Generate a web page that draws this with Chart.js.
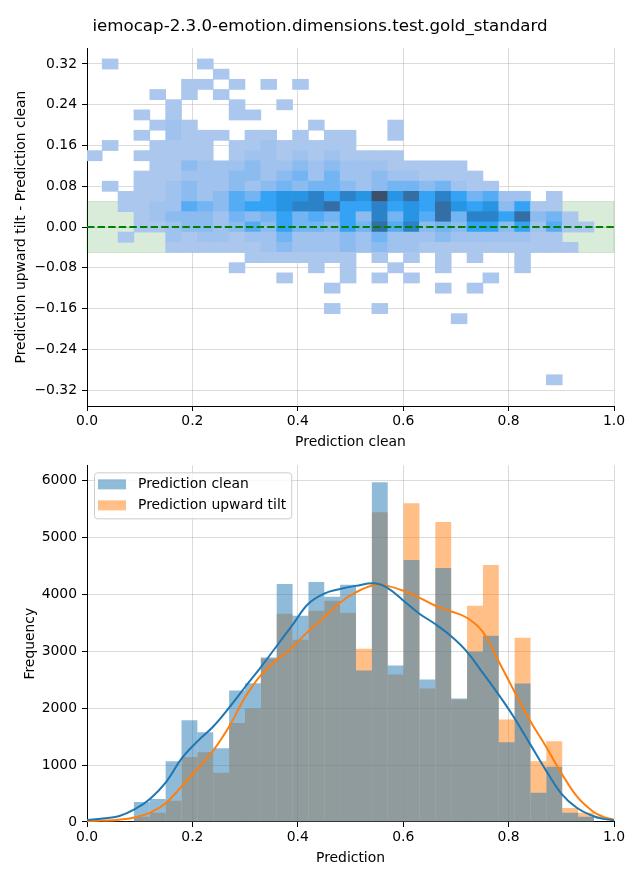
<!DOCTYPE html>
<html><head><meta charset="utf-8">
<script src="https://cdn.jsdelivr.net/npm/chart.js@4.4.1/dist/chart.umd.min.js"></script>
<style>
html,body{margin:0;padding:0;background:#fff;}
#wrap{position:relative;width:640px;height:880px;overflow:hidden;}
.box{position:absolute;left:0;width:640px;}
</style></head><body>
<div id="wrap">
<div class="box" style="top:0;height:452px"><canvas id="c1" width="640" height="452"></canvas></div>
<div class="box" style="top:452px;height:428px"><canvas id="c2" width="640" height="428"></canvas></div>
</div>
<script>
// ---------------- DATA ----------------
const chartTitle = 'iemocap-2.3.0-emotion.dimensions.test.gold_standard';
// histogram bins (centres of the 32 bins on "Prediction clean" / "Prediction")
const binCenters = [0.0138,0.0439,0.0740,0.1041,0.1342,0.1643,0.1944,0.2245,0.2546,0.2847,0.3148,0.3449,0.3750,0.4051,0.4352,0.4653,0.4954,0.5255,0.5556,0.5857,0.6158,0.6459,0.6760,0.7061,0.7362,0.7663,0.7964,0.8265,0.8566,0.8867,0.9168,0.9469];
// top panel: 2D histogram rows (difference upward tilt - clean)
const heatRowCenters = [0.32,0.30,0.28,0.26,0.24,0.22,0.20,0.18,0.16,0.14,0.12,0.10,0.08,0.06,0.04,0.02,0.00,-0.02,-0.04,-0.06,-0.08,-0.10,-0.12,-0.14,-0.16,-0.18,-0.20,-0.22,-0.24,-0.26,-0.28,-0.30];
const heatCounts = [
 [0,1,0,0,0,0,0,1,0,0,0,0,0,0,0,0,0,0,0,0,0,0,0,0,0,0,0,0,0,0,0,0],
 [0,0,0,0,0,0,0,0,1,0,0,0,0,0,0,0,0,0,0,0,0,0,0,0,0,0,0,0,0,0,0,0],
 [0,0,0,0,0,0,1,1,0,1,0,1,0,1,0,0,0,0,0,0,0,0,0,0,0,0,0,0,0,0,0,0],
 [0,0,0,0,1,0,1,0,1,0,0,0,0,0,0,0,0,0,0,0,0,0,0,0,0,0,0,0,0,0,0,0],
 [0,0,0,0,0,1,0,0,0,1,0,0,1,0,0,0,0,0,0,0,0,0,0,0,0,0,0,0,0,0,0,0],
 [0,0,0,1,0,1,0,0,0,1,1,0,0,0,0,0,0,0,0,0,0,0,0,0,0,0,0,0,0,0,0,0],
 [0,0,0,0,1,2,1,0,0,0,0,0,0,0,1,0,0,0,0,1,0,0,0,0,0,0,0,0,0,0,0,0],
 [0,0,0,1,0,2,1,1,1,0,1,1,0,1,0,1,1,0,0,1,0,0,0,0,0,0,0,0,0,0,0,0],
 [0,1,0,0,1,1,1,1,0,1,1,2,1,1,1,1,1,0,0,0,0,0,0,0,0,0,0,0,0,0,0,0],
 [1,0,0,1,1,1,1,1,0,1,2,2,1,2,1,2,1,1,1,1,0,0,0,0,0,0,0,0,0,0,0,0],
 [0,0,0,0,1,1,3,2,2,2,3,2,2,3,2,3,2,2,2,1,1,1,1,1,0,0,0,0,0,0,0,0],
 [0,0,0,1,1,1,2,2,2,3,3,2,3,4,2,4,2,2,3,2,2,1,1,1,1,0,0,0,0,0,0,0],
 [0,1,0,1,1,2,3,2,2,3,2,3,4,3,4,4,3,2,3,4,4,3,4,2,1,1,0,0,0,0,0,0],
 [0,0,1,1,1,2,3,2,3,5,4,6,7,7,8,6,8,7,10,7,9,6,8,6,4,5,2,2,0,1,0,0],
 [0,0,1,1,2,2,5,4,3,5,6,6,7,8,8,9,6,6,8,6,7,6,9,7,6,7,3,6,1,1,0,0],
 [0,0,0,1,2,3,3,3,2,4,3,4,6,4,5,4,6,3,8,4,7,5,9,4,8,8,6,9,3,4,1,0],
 [0,0,0,1,1,2,3,3,2,3,5,3,6,4,4,3,6,4,9,5,8,3,4,3,6,6,3,6,2,5,1,1],
 [0,0,1,0,0,2,1,2,2,1,2,2,4,2,2,2,3,2,4,2,2,2,3,2,2,2,2,2,1,1,0,0],
 [0,0,0,0,0,1,1,1,1,1,1,2,3,2,2,2,3,2,3,2,2,1,1,1,1,1,1,1,1,1,1,0],
 [0,0,0,0,0,0,0,0,0,0,1,1,1,1,1,1,1,0,1,0,1,0,1,0,1,0,0,1,0,0,0,0],
 [0,0,0,0,0,0,0,0,0,1,0,0,0,0,1,0,1,0,0,1,0,0,1,0,0,0,0,1,0,0,0,0],
 [0,0,0,0,0,0,0,0,0,0,0,0,1,0,0,0,1,0,1,0,1,0,0,0,0,1,0,0,0,0,0,0],
 [0,0,0,0,0,0,0,0,0,0,0,0,0,0,0,1,0,0,0,0,0,0,1,0,1,0,0,0,0,0,0,0],
 [0,0,0,0,0,0,0,0,0,0,0,0,0,0,0,0,0,0,0,0,0,0,0,0,0,0,0,0,0,0,0,0],
 [0,0,0,0,0,0,0,0,0,0,0,0,0,0,0,1,0,0,1,0,0,0,0,0,0,0,0,0,0,0,0,0],
 [0,0,0,0,0,0,0,0,0,0,0,0,0,0,0,0,0,0,0,0,0,0,0,1,0,0,0,0,0,0,0,0],
 [0,0,0,0,0,0,0,0,0,0,0,0,0,0,0,0,0,0,0,0,0,0,0,0,0,0,0,0,0,0,0,0],
 [0,0,0,0,0,0,0,0,0,0,0,0,0,0,0,0,0,0,0,0,0,0,0,0,0,0,0,0,0,0,0,0],
 [0,0,0,0,0,0,0,0,0,0,0,0,0,0,0,0,0,0,0,0,0,0,0,0,0,0,0,0,0,0,0,0],
 [0,0,0,0,0,0,0,0,0,0,0,0,0,0,0,0,0,0,0,0,0,0,0,0,0,0,0,0,0,0,0,0],
 [0,0,0,0,0,0,0,0,0,0,0,0,0,0,0,0,0,0,0,0,0,0,0,0,0,0,0,0,0,0,0,0],
 [0,0,0,0,0,0,0,0,0,0,0,0,0,0,0,0,0,0,0,0,0,0,0,0,0,0,0,0,0,1,0,0]
];
const toleranceBand = [-0.05, 0.05];
const referenceLine = 0;
// bottom panel: histogram counts per bin
const seriesNames = ['Prediction clean', 'Prediction upward tilt'];
const countsClean = [0,4,9,350,402,1067,1784,1574,1294,2309,2437,2886,4180,3620,4215,3953,4163,2659,5964,2746,4600,2501,4460,2169,2991,3271,1399,2431,513,968,163,93];
const countsTilt  = [0,1,3,93,163,372,1143,1224,863,1737,1994,2870,3655,3200,3708,3883,3673,3043,5439,2589,5597,2344,5265,2150,3795,4512,1801,3236,1067,1417,245,163];
// KDE curves (scaled to counts)
const kdeX     = [0,0.03,0.06,0.09,0.12,0.15,0.18,0.21,0.24,0.27,0.30,0.33,0.36,0.39,0.42,0.45,0.48,0.51,0.545,0.57,0.60,0.63,0.66,0.69,0.72,0.75,0.78,0.81,0.84,0.87,0.90,0.93,0.96,0.98,1.0];
const kdeClean = [35,60,100,220,410,700,1120,1420,1680,2010,2370,2720,3090,3460,3830,4010,4090,4145,4190,4110,3890,3660,3480,3270,3000,2630,2250,1840,1380,920,500,245,105,55,30];
const kdeTilt  = [17,25,40,80,165,335,630,940,1260,1680,2190,2580,2840,3070,3350,3590,3850,4030,4160,4145,4060,3940,3800,3700,3590,3350,2840,2310,1790,1340,860,445,185,90,40];
// tick values
const topXTicks = [0,0.2,0.4,0.6,0.8,1.0];
const topYTicks = [-0.32,-0.24,-0.16,-0.08,0,0.08,0.16,0.24,0.32];
const botYTicks = [0,1000,2000,3000,4000,5000,6000];

// ---------------- STYLE ----------------
const FS = 13.9;
const FAMILY = "'DejaVu Sans', 'Liberation Sans', sans-serif";
Chart.defaults.font.family = FAMILY;
Chart.defaults.font.size = FS;
Chart.defaults.color = '#000';
const GRID = 'rgba(176,176,176,0.45)';
const BLUE = 'rgba(31,119,180,0.5)', ORANGE = 'rgba(255,127,14,0.5)';

const stops = [[171,199,237],[160,194,238],[140,187,240],[115,180,243],[85,172,245],[52,163,246],[40,148,228],[43,130,200],[52,110,165],[60,79,108]];
function heatColor(c, cmin, cmax) {
  const t = (c - cmin) / Math.max(1e-9, (cmax - cmin));
  const p = t * (stops.length - 1);
  const i = Math.min(stops.length - 2, Math.floor(p));
  const f = p - i;
  const a = stops[i], b = stops[i + 1];
  const m = k => Math.round(a[k] + (b[k] - a[k]) * f);
  return `rgb(${m(0)},${m(1)},${m(2)})`;
}
function fmt(v, d) {
  const r = Math.abs(v) < 1e-9 ? 0 : v;
  return r.toFixed(d).replace('-', '\u2212');
}
function xAxis(title, height, titlePadBottom, ticks, decimals) {
  return {
    type: 'linear', position: 'bottom', min: 0, max: 1, offset: false, z: 1,
    grid: { color: GRID, lineWidth: 1, offset: false, drawTicks: true, tickLength: 5, tickColor: '#000', tickWidth: 1 },
    border: { display: true, color: '#000', width: 1 },
    afterBuildTicks: s => { s.ticks = ticks.map(v => ({ value: v })); },
    ticks: { padding: 2, maxRotation: 0, autoSkip: false, callback: v => fmt(v, decimals), font: { size: FS } },
    title: { display: true, text: title, font: { size: FS }, padding: { top: 0, bottom: titlePadBottom } },
    afterFit: s => { s.height = height; }
  };
}
function yAxis(title, min, max, ticks, decimals, titlePadTop) {
  return {
    type: 'linear', position: 'left', min: min, max: max, z: 1,
    grid: { color: GRID, lineWidth: 1, drawTicks: true, tickLength: 5, tickColor: '#000', tickWidth: 1 },
    border: { display: true, color: '#000', width: 1 },
    afterBuildTicks: s => { s.ticks = ticks.map(v => ({ value: v })); },
    ticks: { padding: 5, autoSkip: false, callback: v => fmt(v, decimals), font: { size: FS } },
    title: { display: true, text: title, font: { size: FS }, padding: { top: titlePadTop, bottom: 0 } },
    afterFit: s => { s.width = 87; }
  };
}
const rightSpacer = {
  type: 'linear', position: 'right', display: true,
  grid: { display: false, drawTicks: false }, border: { display: false },
  ticks: { display: false }, title: { display: false },
  afterFit: s => { s.width = 26; }
};

// ---------------- TOP: 2D histogram ----------------
let cmax = 0, cmin = Infinity;
heatCounts.forEach(r => r.forEach(c => { if (c > 0) { cmax = Math.max(cmax, c); cmin = Math.min(cmin, c); } }));
const heatData = [], heatColors = [];
heatCounts.forEach((row, r) => row.forEach((c, i) => {
  if (c > 0) {
    heatData.push({ x: binCenters[i], y: [heatRowCenters[r] - 0.01, heatRowCenters[r] + 0.01], count: c });
    heatColors.push(heatColor(c, cmin, cmax));
  }
}));

const bandPlugin = {
  id: 'band',
  beforeDatasetsDraw(chart) {
    const { ctx, scales: { x, y } } = chart;
    const x0 = x.getPixelForValue(0), x1 = x.getPixelForValue(1);
    const y0 = y.getPixelForValue(toleranceBand[1]), y1 = y.getPixelForValue(toleranceBand[0]);
    ctx.save();
    ctx.fillStyle = 'rgba(0,128,0,0.15)';
    ctx.fillRect(x0, y0, x1 - x0, y1 - y0);
    ctx.strokeStyle = 'rgba(0,128,0,0.15)';
    ctx.lineWidth = 1;
    ctx.strokeRect(x0, y0, x1 - x0, y1 - y0);
    ctx.restore();
  },
  afterDraw(chart) {
    const { ctx, scales: { x, y } } = chart;
    const yy = y.getPixelForValue(referenceLine);
    ctx.save();
    ctx.strokeStyle = 'green';
    ctx.lineWidth = 2;
    ctx.setLineDash([7.4, 3.2]);
    ctx.beginPath();
    ctx.moveTo(x.getPixelForValue(0), yy);
    ctx.lineTo(x.getPixelForValue(1), yy);
    ctx.stroke();
    ctx.restore();
  }
};

new Chart(document.getElementById('c1'), {
  type: 'bar',
  data: { datasets: [{
    label: 'count', data: heatData, backgroundColor: heatColors,
    borderWidth: 0, barPercentage: 1, categoryPercentage: 1, grouped: false
  }] },
  options: {
    responsive: false, animation: false, events: [],
    layout: { padding: 0 },
    plugins: {
      legend: { display: false }, tooltip: { enabled: false },
      title: { display: true, text: chartTitle, color: '#000', font: { size: 16.67, weight: 'normal' }, padding: { top: 16.5, bottom: 11.5 } }
    },
    scales: {
      x: xAxis('Prediction clean', 46, 1, topXTicks, 1),
      y: yAxis('Prediction upward tilt - Prediction clean', -0.3514, 0.3514, topYTicks, 2, 12.7),
      yR: rightSpacer
    }
  },
  plugins: [bandPlugin]
});

// ---------------- BOTTOM: histograms + KDE ----------------
const legendPlugin = {
  id: 'frameLegend',
  afterDraw(chart) {
    const { ctx, chartArea: ca } = chart;
    const items = chart.data.datasets.filter(d => d.type !== 'line');
    ctx.save();
    ctx.font = `${FS}px ${FAMILY}`;
    const tw = Math.max(...items.map(d => ctx.measureText(d.label).width));
    const fx = ca.left + 7, fy = ca.top + 7, fw = 4 + 28 + 12 + tw + 5, fh = 46;
    ctx.beginPath();
    ctx.roundRect(fx + 0.5, fy + 0.5, fw, fh, 3);
    ctx.fillStyle = 'rgba(255,255,255,0.8)';
    ctx.fill();
    ctx.strokeStyle = '#cccccc';
    ctx.lineWidth = 1;
    ctx.stroke();
    items.forEach((d, i) => {
      const cy = fy + 12 + 21 * i;
      ctx.fillStyle = d.backgroundColor;
      ctx.fillRect(fx + 4, cy - 5, 28, 10);
      ctx.fillStyle = '#000';
      ctx.textBaseline = 'middle';
      ctx.textAlign = 'left';
      ctx.fillText(d.label, fx + 44, cy);
    });
    ctx.restore();
  }
};

new Chart(document.getElementById('c2'), {
  type: 'bar',
  data: { datasets: [
    { type: 'line', label: seriesNames[0] + ' kde', data: kdeX.map((x, i) => ({ x, y: kdeClean[i] })),
      borderColor: '#1f77b4', borderWidth: 2, pointRadius: 0, fill: false, tension: 0.4, order: 0 },
    { type: 'line', label: seriesNames[1] + ' kde', data: kdeX.map((x, i) => ({ x, y: kdeTilt[i] })),
      borderColor: '#ff7f0e', borderWidth: 2, pointRadius: 0, fill: false, tension: 0.4, order: 0 },
    { type: 'bar', label: seriesNames[0], data: binCenters.map((x, i) => ({ x, y: countsClean[i] })),
      backgroundColor: BLUE, borderWidth: 0, barPercentage: 1, categoryPercentage: 1, grouped: false, inflateAmount: 0, order: 1 },
    { type: 'bar', label: seriesNames[1], data: binCenters.map((x, i) => ({ x, y: countsTilt[i] })),
      backgroundColor: ORANGE, borderWidth: 0, barPercentage: 1, categoryPercentage: 1, grouped: false, inflateAmount: 0, order: 2 }
  ] },
  options: {
    responsive: false, animation: false, events: [],
    layout: { padding: { top: 12, left: 0, right: 0, bottom: 0 } },
    plugins: { legend: { display: false }, tooltip: { enabled: false } },
    scales: {
      x: xAxis('Prediction', 58, 13, topXTicks, 1),
      y: yAxis('Frequency', 0, 6261, botYTicks, 0, 21.7),
      yR: rightSpacer
    }
  },
  plugins: [legendPlugin]
});
</script>
</body></html>
